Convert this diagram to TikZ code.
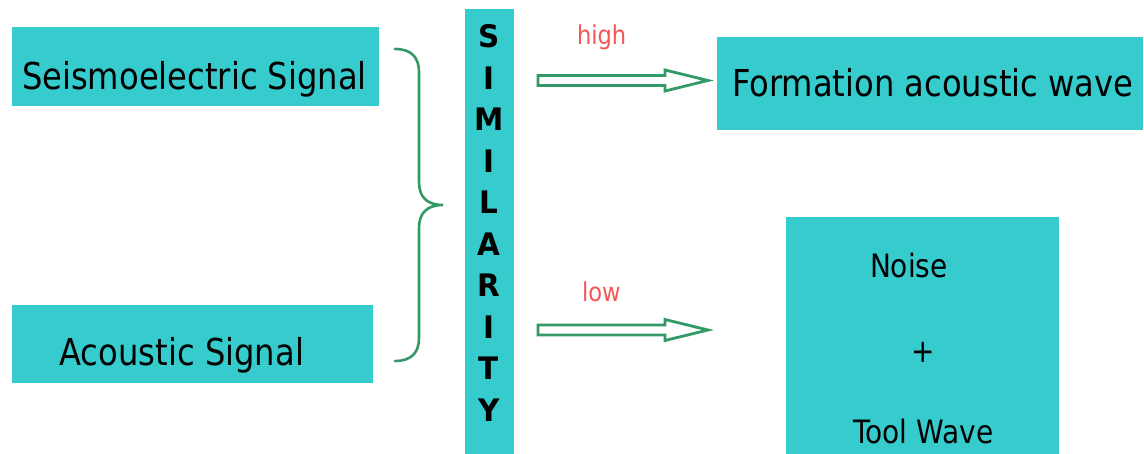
\documentclass[tikz,border=0pt]{standalone}
\usepackage{fontspec}
\setmainfont{DejaVu Sans}[FakeStretch=0.87]
\newfontfamily\letterfont{DejaVu Sans}[FakeStretch=0.95]
\definecolor{tealbox}{RGB}{54,204,206}
\definecolor{grn}{RGB}{51,153,102}
\definecolor{redtxt}{RGB}{245,85,85}
\newcommand\fatarrow[1]{\draw[arr] (#1) ++(0,-5) -- ++(127,0) -- ++(0,-5.5) -- ++(43,10.5) -- ++(-43,10.5) -- ++(0,-5.5) -- ++(-127,0) -- cycle;}
\begin{document}
\begin{tikzpicture}[x=1pt,y=-1pt,
  box/.style={fill=tealbox, draw=none, inner sep=0pt, outer sep=0pt},
  txt/.style={inner sep=0pt, outer sep=0pt, text=black, font=\fontsize{37}{40}\selectfont},
  lbl/.style={inner sep=0pt, outer sep=0pt, text=redtxt, font=\fontsize{26}{30}\selectfont},
  letter/.style={inner sep=0pt, outer sep=0pt, text=black, font=\fontsize{31}{34}\letterfont\bfseries},
  arr/.style={draw=grn, line width=2.8pt, fill=white, line join=miter},
  bracestyle/.style={draw=grn, line width=2.6pt, line cap=round}]
\useasboundingbox (0,0) rectangle (1144,454);

% boxes
\node[box, minimum width=367, minimum height=79] (seis) at (195.5,66.5) {};
\node[box, minimum width=361, minimum height=78] (acou) at (192.5,344) {};
\node[box, minimum width=49, minimum height=445] (bar) at (489.5,231.5) {};
\node[box, minimum width=426, minimum height=93] (form) at (930,83.5) {};
\node[box, minimum width=273, minimum height=237] (noise) at (922.5,335.5) {};

% texts
\node[txt, anchor=base west] (seist) at (22,90) {Seismoelectric Signal};
\node[txt, anchor=base west] (acout) at (59.5,366) {Acoustic Signal};
\node[txt, anchor=base west] (formt) at (732,97) {Formation acoustic wave};
\node[txt, anchor=base west, font=\fontsize{32.2}{36}\selectfont] (noiset) at (870,278) {Noise};
\node[txt, font=\fontsize{32.2}{36}\selectfont] (plus) at (923,352) {+};
\node[txt, anchor=base west, font=\fontsize{32.2}{36}\selectfont] (toolt) at (853,443) {Tool Wave};

% SIMILARITY letters
\foreach \l [count=\i from 0] in {S,I,M,I,L,A,R,I,T,Y}
  \node[letter] (sim\i) at (489,36.5+41.5*\i) {\l};

% labels
\node[lbl, anchor=base west] (high) at (577,45) {high};
\node[lbl, anchor=base west] (low) at (582,302) {low};

% brace
\coordinate (bt) at (395,49);
\coordinate (btip) at (443,205);
\coordinate (bb) at (395,361);
\draw[bracestyle] (bt) .. controls (412,49) and (419,58) .. (419,72) -- (419,182)
  .. controls (419,196) and (426,205) .. (btip)
  .. controls (426,205) and (419,214) .. (419,228) -- (419,338)
  .. controls (419,352) and (412,361) .. (bb);

% arrows
\coordinate (ahigh) at (538,80.5);
\coordinate (alow) at (538,330);
\fatarrow{ahigh}
\fatarrow{alow}
\end{tikzpicture}
\end{document}
